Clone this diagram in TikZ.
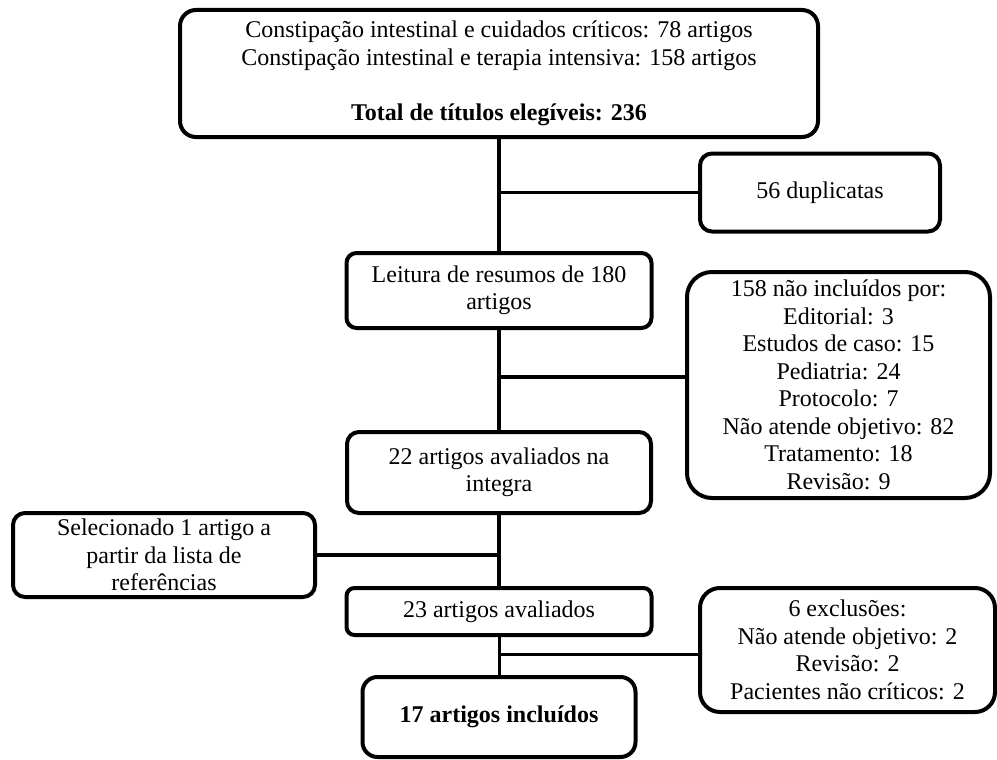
\documentclass[tikz,border=0pt]{standalone}
\usepackage{fontspec}
\setmainfont{Liberation Serif}

\begin{document}
\begin{tikzpicture}[x=1pt,y=-1pt,
    caixa/.style={draw,line width=4pt,rounded corners=12pt,align=center,inner sep=0pt,
      font=\fontsize{24}{27.5}\selectfont},
    liga/.style={line width=3.5pt},
    ligafina/.style={line width=3pt}]
  \useasboundingbox (0,0) rectangle (997,760);
  \node[caixa,minimum width=638,minimum height=127,rounded corners=16pt] (busca) at (499,73.5)
    {Constipação intestinal e cuidados críticos: 78 artigos\\
     Constipação intestinal e terapia intensiva: 158 artigos\\[27.5pt]
     \textbf{Total de títulos elegíveis: 236}};
  \node[caixa,minimum width=240,minimum height=78] (dup) at (820,192.5) {56 duplicatas};
  \node[caixa,minimum width=305,minimum height=75,rounded corners=10pt] (leit) at (499,290.5)
    {Leitura de resumos de 180\\ artigos};
  \node[caixa,minimum width=303,minimum height=226,rounded corners=25pt] (naoinc) at (838.5,385)
    {158 não incluídos por:\\ Editorial: 3\\ Estudos de caso: 15\\ Pediatria: 24\\
     Protocolo: 7\\ Não atende objetivo: 82\\ Tratamento: 18\\ Revisão: 9};
  \node[caixa,minimum width=304,minimum height=81] (aval) at (499,472.5)
    {22 artigos avaliados na\\ integra};
  \node[caixa,minimum width=302,minimum height=84] (sel) at (164,555)
    {Selecionado 1 artigo a\\ partir da lista de\\ referências};
  \node[caixa,minimum width=305,minimum height=47,rounded corners=8pt] (art) at (499,611.5)
    {23 artigos avaliados};
  \node[caixa,minimum width=295,minimum height=124,rounded corners=20pt] (excl) at (847.5,650)
    {6 exclusões:\\ Não atende objetivo: 2\\ Revisão: 2\\ Pacientes não críticos: 2};
  \node[caixa,minimum width=273,minimum height=80,rounded corners=15pt] (inc) at (499,717)
    {\textbf{17 artigos incluídos}};
  \coordinate (j1) at (499,377);
  \coordinate (j2) at (499,654);
  \draw[liga] (busca) -- (leit);
  \draw[ligafina] (dup.west) -- (dup.west -| busca);
  \draw[liga] (leit) -- (aval);
  \draw[liga] (j1) -- (j1 -| naoinc.west);
  \draw[liga] (aval) -- (art);
  \draw[liga] (sel.east) -- (sel.east -| aval);
  \draw[ligafina] (art) -- (inc);
  \draw[ligafina] (j2) -- (j2 -| excl.west);
\end{tikzpicture}
\end{document}
